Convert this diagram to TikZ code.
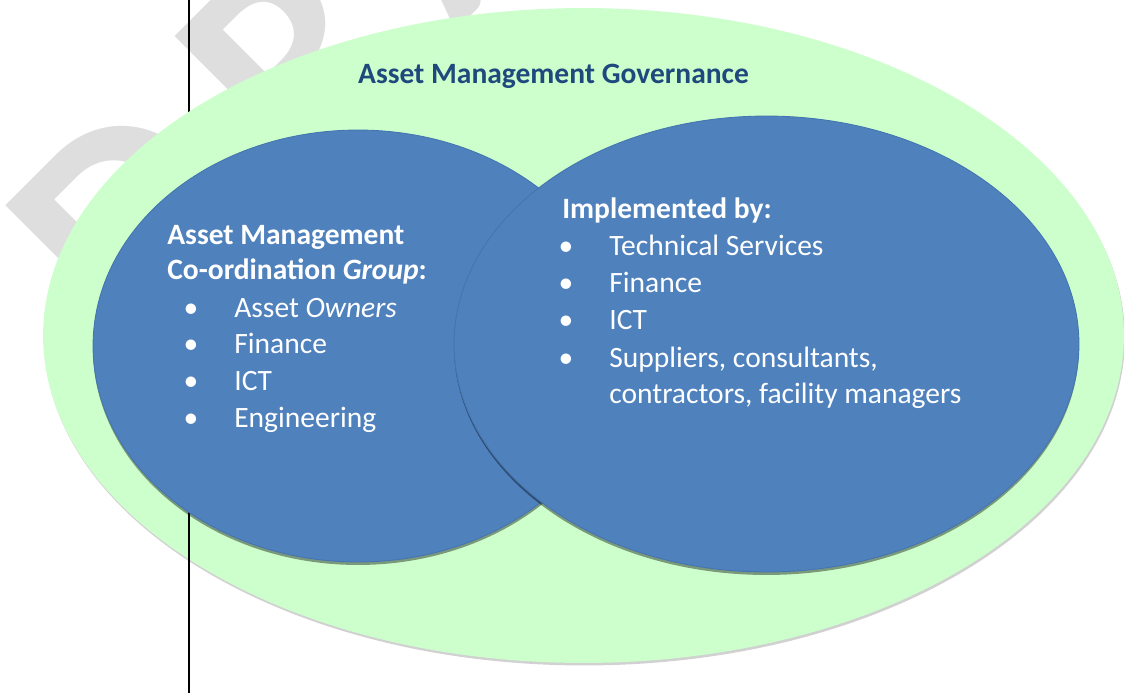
\documentclass[tikz,border=0pt]{standalone}
\usepackage{fontspec}
\setmainfont{Carlito}
\usetikzlibrary{shapes.geometric}
\usetikzlibrary{positioning}
\definecolor{amblue}{HTML}{4F81BD}
\definecolor{amedge}{HTML}{4475B0}
\definecolor{amgreen}{HTML}{CCFFCC}
\definecolor{amtitle}{HTML}{1F497D}
\definecolor{wmgray}{HTML}{DEDEDE}
\tikzset{gov node/.style={ellipse,fill=amgreen,minimum width=21.62cm,minimum height=13.1cm,inner sep=0pt},}
\tikzset{group node/.style={ellipse,fill=amblue,draw=amedge,line width=0.5pt,inner sep=0pt},}
\tikzset{list text/.style={text=white,font=\fontsize{16.8}{20}\selectfont,inner sep=0pt},}
\tikzset{head text/.style={list text,font=\fontsize{16.8}{20}\selectfont\bfseries},}
\tikzset{wm text/.style={text=wmgray,font=\fontsize{171}{171}\selectfont\bfseries,rotate=45,anchor=base west,inner sep=0pt},}
\newcommand{\listbullet}{\llap{\textbullet\hspace{0.72cm}}}

\begin{document}
\begin{tikzpicture}[x=0.02cm,y=-0.02cm]
     \useasboundingbox (0,0) rectangle (1124,693);
     \node[wm text] (wm) at (131,356) {D\hspace{1cm}R\hspace{1cm}A\hspace{1cm}F\hspace{1cm}T};
     \coordinate (ruletop) at (189,0);
     \coordinate (rulemid) at (189,508);
     \coordinate (rulebot) at (189,693);
     \draw[line width=0.8pt] (ruletop) -- (rulebot);

     \node[gov node, fill=black!18] (govshadow) at (584.5,338) {};
     \node[gov node] (gov) at (583.5,335.5) {};
     \draw[line width=0.8pt] (rulemid) -- (rulebot);

     \node[group node, fill=black, draw=none, opacity=0.4, minimum width=10.6cm, minimum height=8.64cm] (coordshadow) at (358,349) {};
     \node[group node, minimum width=10.6cm, minimum height=8.64cm] (coord) at (358,346) {};
     \node[group node, fill=black, draw=none, opacity=0.4, minimum width=12.5cm, minimum height=9.12cm] (implshadow) at (766.5,347) {};
     \node[group node, minimum width=12.5cm, minimum height=9.12cm] (impl) at (766.5,344) {};

     \node[head text, text=amtitle, anchor=base] (title) at (553.5,83) {Asset Management Governance};

     \node[head text, anchor=base west] (lhead1) at (167,244) {Asset Management};
     \node[head text] (lhead2) [below=0.72cm of lhead1.base west, anchor=base west] {Co-ordination \textit{Group}:};
     \node[list text, anchor=base west] (litem1) at (234,317) {\listbullet Asset \textit{Owners}};
     \node[list text] (litem2) [below=0.74cm of litem1.base west, anchor=base west] {\listbullet Finance};
     \node[list text] (litem3) [below=0.74cm of litem2.base west, anchor=base west] {\listbullet ICT};
     \node[list text] (litem4) [below=0.74cm of litem3.base west, anchor=base west] {\listbullet Engineering};

     \node[head text, anchor=base west] (rhead) at (562,218) {Implemented by:};
     \node[list text, anchor=base west] (ritem1) at (609,255) {\listbullet Technical Services};
     \node[list text] (ritem2) [below=0.75cm of ritem1.base west, anchor=base west] {\listbullet Finance};
     \node[list text] (ritem3) [below=0.75cm of ritem2.base west, anchor=base west] {\listbullet ICT};
     \node[list text] (ritem4) [below=0.75cm of ritem3.base west, anchor=base west] {\listbullet Suppliers, consultants,};
     \node[list text] (ritem5) [below=0.72cm of ritem4.base west, anchor=base west] {contractors, facility managers};
\end{tikzpicture}
\end{document}
